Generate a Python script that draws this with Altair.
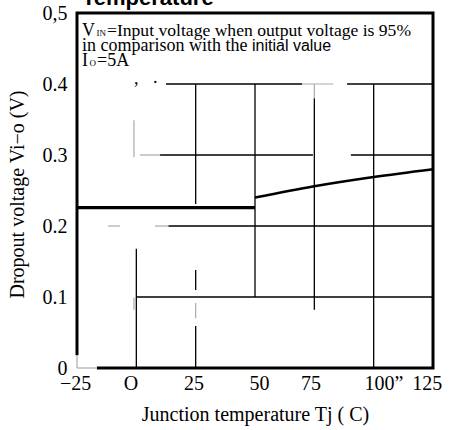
import altair as alt
import pandas as pd

# ---- data ----
flat_t = [-25, 50]
flat_v = [0.226, 0.226]
rise_t = [50, 75, 100, 125]
rise_v = [0.240, 0.256, 0.269, 0.280]

y_ticks = [0, 0.1, 0.2, 0.3, 0.4, 0.5]
x_tick_text = ["\u221225", "O", "25", "50", "75", "100\u201d", "125"]
x_tick_pos = [-25.6, -2.3, 24.3, 51.9, 73.6, 104.3, 122.6]

# grid segments (scan leaves gaps): horizontal (y, x1, x2), vertical (x, y1, y2)
hg_y = [0.4, 0.4, 0.3, 0.3, 0.2, 0.1]
hg_x1 = [12.5, 88.8, 10.0, 90.4, 13.5, 0]
hg_x2 = [69.8, 125, 74.4, 125, 125, 125]
vg_x = [0, 25, 25, 25, 50, 75, 100]
vg_y1 = [0, 0.231, 0.110, 0, 0.1, 0.082, 0]
vg_y2 = [0.168, 0.4, 0.138, 0.059, 0.4, 0.38, 0.4]
# faint (grey) fragments
fh_y = [0.4, 0.3, 0.2, 0.2, 0.0]
fh_x1 = [69.8, 1.5, -11.9, 7.9, -25]
fh_x2 = [83.0, 10.0, -6.9, 13.5, -16.6]
fv_x = [-1, -1, 25, 75, -25]
fv_y1 = [0.297, 0.082, 0.070, 0.38, 0.0]
fv_y2 = [0.349, 0.099, 0.0915, 0.4, 0.018]
# parts of the frame that the scan lost
gap_h_y = [0.0]
gap_h_x1 = [-25.5]
gap_h_x2 = [-16.6]
gap_v_x = [-25]
gap_v_y1 = [-0.003]
gap_v_y2 = [0.018]

W, H = 356, 355
SERIF = "Liberation Serif"
SANS = "Liberation Sans"

xs = alt.Scale(domain=[-25, 125], nice=False, zero=False)
ys = alt.Scale(domain=[0, 0.5], nice=False)

hg = pd.DataFrame({"y": hg_y, "x1": hg_x1, "x2": hg_x2})
vg = pd.DataFrame({"x": vg_x, "y1": vg_y1, "y2": vg_y2})
fh = pd.DataFrame({"y": fh_y, "x1": fh_x1, "x2": fh_x2})
fv = pd.DataFrame({"x": fv_x, "y1": fv_y1, "y2": fv_y2})
gh = pd.DataFrame({"y": gap_h_y, "x1": gap_h_x1, "x2": gap_h_x2})
gv = pd.DataFrame({"x": gap_v_x, "y1": gap_v_y1, "y2": gap_v_y2})
flat = pd.DataFrame({"t": flat_t, "v": flat_v})
rise = pd.DataFrame({"t": rise_t, "v": rise_v})
ticks = pd.DataFrame({"t": x_tick_pos, "lab": x_tick_text})

h_grid = alt.Chart(hg).mark_rule(color="black", strokeWidth=1.3).encode(
    x=alt.X("x1:Q", scale=xs,
            axis=alt.Axis(labels=False, ticks=False, domain=False, grid=False,
                          title="Junction temperature Tj ( C)", titleFont=SERIF,
                          titleFontSize=20, titleFontWeight="normal", titleColor="black",
                          titleX=178, titleY=52, titleBaseline="alphabetic")),
    x2="x2:Q",
    y=alt.Y("y:Q", scale=ys,
            axis=alt.Axis(values=y_ticks, ticks=False, domain=False, grid=False,
                          labelExpr="datum.value == 0.5 ? '0,5' : (datum.value == 0 ? '0' : format(datum.value, '.1f'))",
                          labelFont=SERIF, labelFontSize=20, labelColor="black", labelPadding=10,
                          title="Dropout voltage Vi\u2212o (V)", titleFont=SERIF, titleFontSize=20,
                          titleFontWeight="normal", titleColor="black",
                          titleX=-60, titleY=181, titleBaseline="middle")),
)
v_grid = alt.Chart(vg).mark_rule(color="black", strokeWidth=1.3).encode(
    x=alt.X("x:Q", scale=xs), y=alt.Y("y1:Q", scale=ys), y2="y2:Q")

frame = alt.Chart(pd.DataFrame({"a": [0]})).mark_rect(filled=False, stroke="black", strokeWidth=3).encode(
    x=alt.value(0), x2=alt.value(W), y=alt.value(0), y2=alt.value(H))

g_h = alt.Chart(gh).mark_rule(color="white", strokeWidth=4).encode(
    x=alt.X("x1:Q", scale=xs), x2="x2:Q", y=alt.Y("y:Q", scale=ys))
g_v = alt.Chart(gv).mark_rule(color="white", strokeWidth=4).encode(
    x=alt.X("x:Q", scale=xs), y=alt.Y("y1:Q", scale=ys), y2="y2:Q")

f_h = alt.Chart(fh).mark_rule(color="#aaaaaa", strokeWidth=1.2).encode(
    x=alt.X("x1:Q", scale=xs), x2="x2:Q", y=alt.Y("y:Q", scale=ys))
f_v = alt.Chart(fv).mark_rule(color="#aaaaaa", strokeWidth=1.2).encode(
    x=alt.X("x:Q", scale=xs), y=alt.Y("y1:Q", scale=ys), y2="y2:Q")

flat_line = alt.Chart(flat).mark_line(color="black", strokeWidth=3.3, strokeCap="butt").encode(
    x=alt.X("t:Q", scale=xs), y=alt.Y("v:Q", scale=ys))
rise_line = alt.Chart(rise).mark_line(color="black", strokeWidth=2.6, interpolate="monotone",
                                      strokeCap="butt").encode(
    x=alt.X("t:Q", scale=xs), y=alt.Y("v:Q", scale=ys))

tick_text = alt.Chart(ticks).mark_text(font=SERIF, fontSize=20, color="black",
                                       align="center", baseline="alphabetic").encode(
    x=alt.X("t:Q", scale=xs), y=alt.value(H + 22), text="lab:N")


def txt(s, x, y, size, font=SERIF, weight="normal"):
    return alt.Chart(pd.DataFrame({"a": [0]})).mark_text(
        text=s, font=font, fontSize=size, fontWeight=weight, color="black",
        align="left", baseline="alphabetic").encode(x=alt.value(x), y=alt.value(y))


notes = [
    txt("Temperature", 5, -8, 22, SANS, "bold"),
    txt("V", 5, 23, 18),
    txt("IN", 19.5, 23, 9),
    txt("=Input voltage when output voltage is 95%", 30, 23, 17.6),
    txt("in comparison with the", 5, 38, 18),
    txt("initial value", 175, 38, 16, SANS),
    txt("I", 5, 53, 18),
    txt("O", 12.5, 53, 9),
    txt("=5A", 20, 53, 18),
    txt(",", 57, 71, 18),
    txt(".", 76, 70, 18),
]

chart = alt.layer(h_grid, v_grid, frame, g_h, g_v, f_h, f_v, flat_line, rise_line,
                  tick_text, *notes).properties(
    width=W, height=H,
    autosize=alt.AutoSizeParams(type="none"),
    padding={"left": 77, "top": 13, "right": 17, "bottom": 62},
    background="white",
).configure_view(stroke=None)

chart.save("out.html", embed_options={"renderer": "svg", "actions": False})
